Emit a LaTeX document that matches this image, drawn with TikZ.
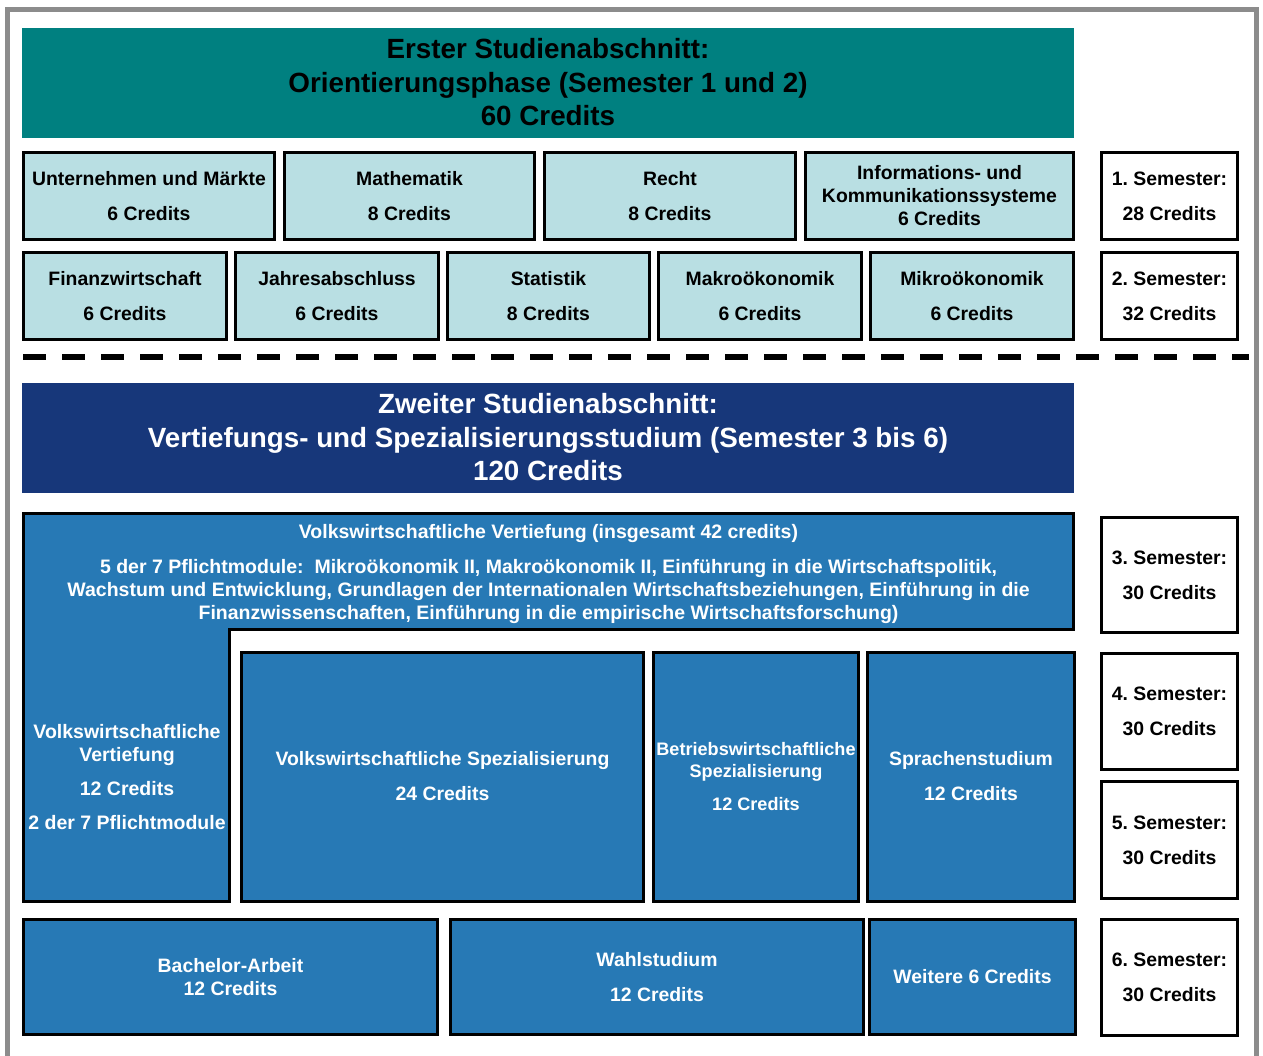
\documentclass[tikz,border=0pt]{standalone}
\usepackage{fontspec}
\setmainfont{Liberation Sans}
\frenchspacing
\definecolor{headteal}{HTML}{008080}
\definecolor{modcyan}{HTML}{B9DFE3}
\definecolor{headnavy}{HTML}{17377A}
\definecolor{modblue}{HTML}{2779B5}
\definecolor{framegray}{HTML}{8C8C8C}
\tikzset{
  headbox/.style={inner sep=0pt, align=center, minimum width=1052pt, minimum height=110pt,
    font=\bfseries\fontsize{27.8}{33.5}\selectfont},
  modbox/.style={draw=black, line width=3pt, fill=modcyan, inner sep=0pt, align=center,
    font=\bfseries\fontsize{19.4}{23}\selectfont},
  bluebox/.style={draw=black, line width=3pt, fill=modblue, text=white, inner sep=0pt, align=center,
    font=\bfseries\fontsize{19.4}{23}\selectfont},
  sembox/.style={draw=black, line width=3pt, fill=white, inner sep=0pt, align=center,
    minimum width=136pt, font=\bfseries\fontsize{19.4}{23}\selectfont},
  bluetext/.style={text=white, inner sep=0pt, align=center,
    font=\bfseries\fontsize{19.5}{23}\selectfont}
}
\begin{document}
\begin{tikzpicture}[x=1pt, y=-1pt]
    \useasboundingbox (0,0) rectangle (1263,1055);
    \draw[framegray, line width=5pt] (7.5,1070) -- (7.5,9.5) -- (1256,9.5) -- (1256,1070);

    % erster Studienabschnitt
    \node[headbox, fill=headteal] (orient) at (548,82.5) {Erster Studienabschnitt:\\Orientierungsphase (Semester 1 und 2)\\60 Credits};

    \node[modbox, minimum width=251pt, minimum height=87pt] (untern) at (149,196) {Unternehmen und Märkte\\[12pt]6 Credits};
    \node[modbox, minimum width=250pt, minimum height=87pt] (mathe) at (409.5,196) {Mathematik\\[12pt]8 Credits};
    \node[modbox, minimum width=251pt, minimum height=87pt] (recht) at (670,196) {Recht\\[12pt]8 Credits};
    \node[modbox, minimum width=268pt, minimum height=87pt] (infosys) at (939.5,196) {Informations- und\\Kommunikationssysteme\\6 Credits};

    \node[modbox, minimum width=203pt, minimum height=87pt] (finanz) at (125,296) {Finanzwirtschaft\\[12pt]6 Credits};
    \node[modbox, minimum width=203pt, minimum height=87pt] (jahres) at (337,296) {Jahresabschluss\\[12pt]6 Credits};
    \node[modbox, minimum width=202pt, minimum height=87pt] (statistik) at (548.5,296) {Statistik\\[12pt]8 Credits};
    \node[modbox, minimum width=203pt, minimum height=87pt] (makro) at (760,296) {Makroökonomik\\[12pt]6 Credits};
    \node[modbox, minimum width=203pt, minimum height=87pt] (mikro) at (972,296) {Mikroökonomik\\[12pt]6 Credits};

    \draw[line width=6pt, dash pattern=on 23pt off 16pt] (23,357) -- (1249,357);

    % zweiter Studienabschnitt
    \node[headbox, fill=headnavy, text=white] (vertief) at (548,437.5) {Zweiter Studienabschnitt:\\Vertiefungs- und Spezialisierungsstudium (Semester 3 bis 6)\\120 Credits};

    \draw[line width=3pt, fill=modblue] (23.5,513.5) -- (1073.5,513.5) -- (1073.5,629.5) -- (229.5,629.5)
        -- (229.5,901.5) -- (23.5,901.5) -- cycle;
    \node[bluetext] (vwtitel) at (548.5,533.5) {Volkswirtschaftliche Vertiefung (insgesamt 42 credits)};
    \node[bluetext] (vwpflicht) at (548.5,591.5) {5 der 7 Pflichtmodule:~ Mikroökonomik II, Makroökonomik II, Einführung in die Wirtschaftspolitik,\\Wachstum und Entwicklung, Grundlagen der Internationalen Wirtschaftsbeziehungen, Einführung in die\\Finanzwissenschaften, Einführung in die empirische Wirtschaftsforschung)};
    \node[bluetext] (vwvert) at (127,777.5) {Volkswirtschaftliche\\Vertiefung\\[11pt]12 Credits\\[11pt]2 der 7 Pflichtmodule};

    \node[bluebox, minimum width=402pt, minimum height=249pt] (vwspez) at (442.5,776.5) {Volkswirtschaftliche Spezialisierung\\[12pt]24 Credits};
    \node[bluebox, minimum width=205pt, minimum height=249pt, font=\bfseries\fontsize{18.1}{22}\selectfont] (bwspez) at (756,776.5) {Betriebswirtschaftliche\\Spezialisierung\\[11pt]12 Credits};
    \node[bluebox, minimum width=207pt, minimum height=249pt] (sprachen) at (971,776.5) {Sprachenstudium\\[12pt]12 Credits};

    \node[bluebox, minimum width=414pt, minimum height=115pt] (bachelor) at (230.5,977) {Bachelor-Arbeit\\12 Credits};
    \node[bluebox, minimum width=413pt, minimum height=115pt] (wahl) at (657,977) {Wahlstudium\\[12pt]12 Credits};
    \node[bluebox, minimum width=206pt, minimum height=115pt] (weitere) at (972.5,977) {Weitere 6 Credits};

    % Semester
    \foreach \n/\y/\h/\c in {1/196/87/28, 2/296/87/32, 3/575/115/30, 4/711.5/116/30, 5/840/117/30, 6/977.5/116/30} {
        \node[sembox, minimum height=\h pt] (sem\n) at (1169.5,\y) {\n. Semester:\\[12pt]\c{} Credits};
    }
\end{tikzpicture}
\end{document}
